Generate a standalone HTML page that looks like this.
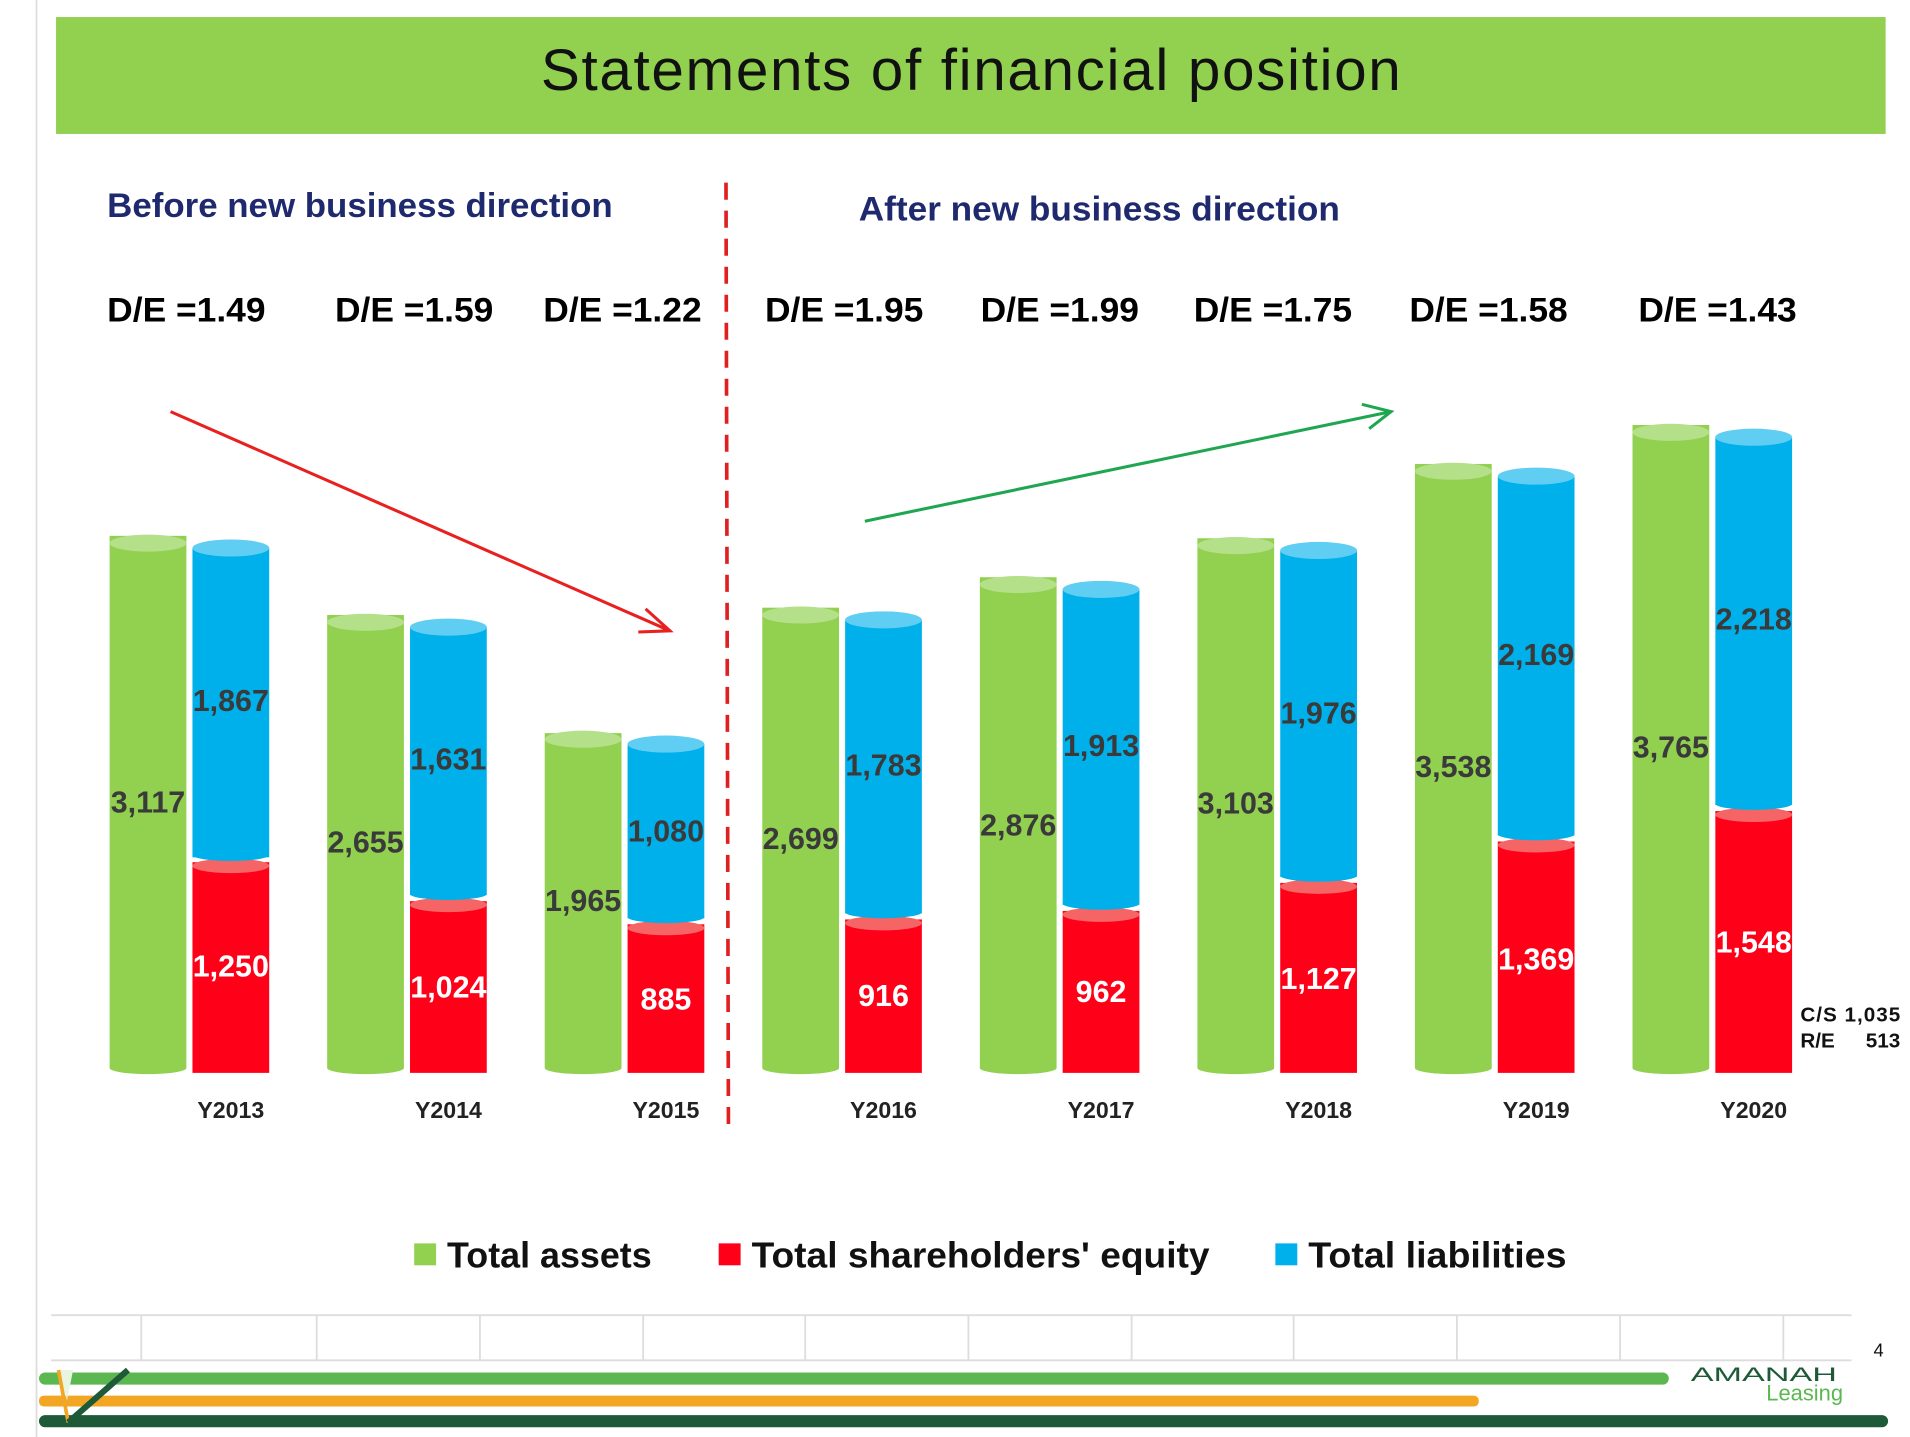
<!DOCTYPE html>
<html><head><meta charset="utf-8"><style>
html,body{margin:0;padding:0;background:#fff;}
svg{display:block;}
text{font-family:"Liberation Sans",sans-serif;}
</style></head><body>
<svg width="1910" height="1437" viewBox="0 0 1568 1180" preserveAspectRatio="none">
<rect x="0" y="0" width="1568" height="1180" fill="#fff"/>
<line x1="30" y1="0" x2="30" y2="1180" stroke="#ddd" stroke-width="1.5"/>
<rect x="46" y="14" width="1502" height="96" fill="#92D050"/>
<text x="444" y="74" font-size="48" fill="#111" textLength="706" lengthAdjust="spacing">Statements of financial position</text>
<text x="88" y="178" font-size="28" font-weight="bold" fill="#1F2A6E" textLength="415" lengthAdjust="spacingAndGlyphs">Before new business direction</text>
<text x="705" y="181" font-size="28" font-weight="bold" fill="#1F2A6E" textLength="395" lengthAdjust="spacingAndGlyphs">After new business direction</text>
<g font-size="28" font-weight="bold" fill="#000">
<text x="88" y="264" textLength="130" lengthAdjust="spacingAndGlyphs">D/E =1.49</text><text x="275" y="264" textLength="130" lengthAdjust="spacingAndGlyphs">D/E =1.59</text><text x="446" y="264" textLength="130" lengthAdjust="spacingAndGlyphs">D/E =1.22</text><text x="628" y="264" textLength="130" lengthAdjust="spacingAndGlyphs">D/E =1.95</text><text x="805" y="264" textLength="130" lengthAdjust="spacingAndGlyphs">D/E =1.99</text><text x="980" y="264" textLength="130" lengthAdjust="spacingAndGlyphs">D/E =1.75</text><text x="1157" y="264" textLength="130" lengthAdjust="spacingAndGlyphs">D/E =1.58</text><text x="1345" y="264" textLength="130" lengthAdjust="spacingAndGlyphs">D/E =1.43</text>
</g>
<line x1="596" y1="150" x2="598" y2="925" stroke="#E02020" stroke-width="3" stroke-dasharray="14,9"/>
<line x1="140" y1="338" x2="550" y2="518" stroke="#E82020" stroke-width="2.5"/>
<polyline points="530,500 550,518 524,519" fill="none" stroke="#E82020" stroke-width="2.5"/>
<line x1="710" y1="428" x2="1142" y2="338" stroke="#1FA650" stroke-width="2.5"/>
<polyline points="1118,332 1142,338 1124,352" fill="none" stroke="#1FA650" stroke-width="2.5"/>

<g id="bars">
<rect x="90" y="440" width="63" height="437" fill="#92D050"/><ellipse cx="121.5" cy="877" rx="31.5" ry="5" fill="#92D050"/><ellipse cx="121.5" cy="446" rx="31.5" ry="7" fill="#B5E08A"/>
<rect x="158" y="708" width="63" height="173" fill="#FF0019"/><ellipse cx="189.5" cy="711" rx="31.5" ry="6" fill="#F56565"/>
<rect x="158" y="450" width="63" height="254" fill="#00B0EA"/><ellipse cx="189.5" cy="450" rx="31.5" ry="7" fill="#5FCEF2"/><ellipse cx="189.5" cy="702" rx="31.5" ry="5" fill="#00B0EA"/>
<rect x="268.6" y="505" width="63" height="372" fill="#92D050"/><ellipse cx="300.1" cy="877" rx="31.5" ry="5" fill="#92D050"/><ellipse cx="300.1" cy="511" rx="31.5" ry="7" fill="#B5E08A"/>
<rect x="336.6" y="740" width="63" height="141" fill="#FF0019"/><ellipse cx="368.1" cy="743" rx="31.5" ry="6" fill="#F56565"/>
<rect x="336.6" y="515" width="63" height="220" fill="#00B0EA"/><ellipse cx="368.1" cy="515" rx="31.5" ry="7" fill="#5FCEF2"/><ellipse cx="368.1" cy="734" rx="31.5" ry="5" fill="#00B0EA"/>
<rect x="447.2" y="602" width="63" height="275" fill="#92D050"/><ellipse cx="478.7" cy="877" rx="31.5" ry="5" fill="#92D050"/><ellipse cx="478.7" cy="607" rx="31.5" ry="7" fill="#B5E08A"/>
<rect x="515.2" y="759" width="63" height="122" fill="#FF0019"/><ellipse cx="546.7" cy="762" rx="31.5" ry="6" fill="#F56565"/>
<rect x="515.2" y="611" width="63" height="143" fill="#00B0EA"/><ellipse cx="546.7" cy="611" rx="31.5" ry="7" fill="#5FCEF2"/><ellipse cx="546.7" cy="753" rx="31.5" ry="5" fill="#00B0EA"/>
<rect x="625.8" y="499" width="63" height="378" fill="#92D050"/><ellipse cx="657.3" cy="877" rx="31.5" ry="5" fill="#92D050"/><ellipse cx="657.3" cy="505" rx="31.5" ry="7" fill="#B5E08A"/>
<rect x="693.8" y="755" width="63" height="126" fill="#FF0019"/><ellipse cx="725.3" cy="758" rx="31.5" ry="6" fill="#F56565"/>
<rect x="693.8" y="509" width="63" height="241" fill="#00B0EA"/><ellipse cx="725.3" cy="509" rx="31.5" ry="7" fill="#5FCEF2"/><ellipse cx="725.3" cy="749" rx="31.5" ry="5" fill="#00B0EA"/>
<rect x="804.4" y="474" width="63" height="403" fill="#92D050"/><ellipse cx="835.9" cy="877" rx="31.5" ry="5" fill="#92D050"/><ellipse cx="835.9" cy="480" rx="31.5" ry="7" fill="#B5E08A"/>
<rect x="872.4" y="748" width="63" height="133" fill="#FF0019"/><ellipse cx="903.9" cy="751" rx="31.5" ry="6" fill="#F56565"/>
<rect x="872.4" y="484" width="63" height="259" fill="#00B0EA"/><ellipse cx="903.9" cy="484" rx="31.5" ry="7" fill="#5FCEF2"/><ellipse cx="903.9" cy="742" rx="31.5" ry="5" fill="#00B0EA"/>
<rect x="983" y="442" width="63" height="435" fill="#92D050"/><ellipse cx="1014.5" cy="877" rx="31.5" ry="5" fill="#92D050"/><ellipse cx="1014.5" cy="448" rx="31.5" ry="7" fill="#B5E08A"/>
<rect x="1051" y="725" width="63" height="156" fill="#FF0019"/><ellipse cx="1082.5" cy="728" rx="31.5" ry="6" fill="#F56565"/>
<rect x="1051" y="452" width="63" height="268" fill="#00B0EA"/><ellipse cx="1082.5" cy="452" rx="31.5" ry="7" fill="#5FCEF2"/><ellipse cx="1082.5" cy="719" rx="31.5" ry="5" fill="#00B0EA"/>
<rect x="1161.6" y="381" width="63" height="496" fill="#92D050"/><ellipse cx="1193.1" cy="877" rx="31.5" ry="5" fill="#92D050"/><ellipse cx="1193.1" cy="387" rx="31.5" ry="7" fill="#B5E08A"/>
<rect x="1229.6" y="691" width="63" height="190" fill="#FF0019"/><ellipse cx="1261.1" cy="694" rx="31.5" ry="6" fill="#F56565"/>
<rect x="1229.6" y="391" width="63" height="295" fill="#00B0EA"/><ellipse cx="1261.1" cy="391" rx="31.5" ry="7" fill="#5FCEF2"/><ellipse cx="1261.1" cy="685" rx="31.5" ry="5" fill="#00B0EA"/>
<rect x="1340.2" y="349" width="63" height="528" fill="#92D050"/><ellipse cx="1371.7" cy="877" rx="31.5" ry="5" fill="#92D050"/><ellipse cx="1371.7" cy="355" rx="31.5" ry="7" fill="#B5E08A"/>
<rect x="1408.2" y="666" width="63" height="215" fill="#FF0019"/><ellipse cx="1439.7" cy="669" rx="31.5" ry="6" fill="#F56565"/>
<rect x="1408.2" y="359" width="63" height="302" fill="#00B0EA"/><ellipse cx="1439.7" cy="359" rx="31.5" ry="7" fill="#5FCEF2"/><ellipse cx="1439.7" cy="660" rx="31.5" ry="5" fill="#00B0EA"/>
</g>

<g font-size="25" font-weight="bold" fill="#3A3A3A" text-anchor="middle">
<text x="121.5" y="667">3,117</text><text x="189.5" y="584">1,867</text>
<text x="300.1" y="700">2,655</text><text x="368.1" y="632">1,631</text>
<text x="478.7" y="748">1,965</text><text x="546.7" y="691">1,080</text>
<text x="657.3" y="697">2,699</text><text x="725.3" y="637">1,783</text>
<text x="835.9" y="686">2,876</text><text x="903.9" y="621">1,913</text>
<text x="1014.5" y="668">3,103</text><text x="1082.5" y="594">1,976</text>
<text x="1193.1" y="638">3,538</text><text x="1261.1" y="546">2,169</text>
<text x="1371.7" y="622">3,765</text><text x="1439.7" y="517">2,218</text>
</g>
<g font-size="25" font-weight="bold" fill="#fff" text-anchor="middle">
<text x="189.5" y="802">1,250</text><text x="368.1" y="819">1,024</text><text x="546.7" y="829">885</text><text x="725.3" y="826">916</text><text x="903.9" y="823">962</text><text x="1082.5" y="812">1,127</text><text x="1261.1" y="796">1,369</text><text x="1439.7" y="782">1,548</text>
</g>
<g font-size="19" font-weight="bold" fill="#222" text-anchor="middle">
<text x="189.5" y="918">Y2013</text><text x="368.1" y="918">Y2014</text><text x="546.7" y="918">Y2015</text><text x="725.3" y="918">Y2016</text><text x="903.9" y="918">Y2017</text><text x="1082.5" y="918">Y2018</text><text x="1261.1" y="918">Y2019</text><text x="1439.7" y="918">Y2020</text>
</g>
<text x="1478" y="839" font-size="17" font-weight="bold" fill="#111" textLength="82">C/S 1,035</text>
<text x="1478" y="860" font-size="17" font-weight="bold" fill="#111">R/E</text><text x="1560" y="860" font-size="17" font-weight="bold" fill="#111" text-anchor="end">513</text>

<rect x="340" y="1021" width="18" height="18" fill="#92D050"/>
<text x="367" y="1041" font-size="30" font-weight="bold" fill="#111" textLength="168" lengthAdjust="spacingAndGlyphs">Total assets</text>
<rect x="590" y="1021" width="18" height="18" fill="#FF0019"/>
<text x="617" y="1041" font-size="30" font-weight="bold" fill="#111" textLength="376" lengthAdjust="spacingAndGlyphs">Total shareholders' equity</text>
<rect x="1047" y="1021" width="18" height="18" fill="#00B0EA"/>
<text x="1074" y="1041" font-size="30" font-weight="bold" fill="#111" textLength="212" lengthAdjust="spacingAndGlyphs">Total liabilities</text>

<g stroke="#ddd" stroke-width="1.5">
<line x1="42" y1="1080" x2="1520" y2="1080"/><line x1="42" y1="1117" x2="1520" y2="1117"/>
<line x1="116" y1="1080" x2="116" y2="1117"/><line x1="260" y1="1080" x2="260" y2="1117"/><line x1="394" y1="1080" x2="394" y2="1117"/><line x1="528" y1="1080" x2="528" y2="1117"/><line x1="661" y1="1080" x2="661" y2="1117"/><line x1="795" y1="1080" x2="795" y2="1117"/><line x1="929" y1="1080" x2="929" y2="1117"/><line x1="1062" y1="1080" x2="1062" y2="1117"/><line x1="1196" y1="1080" x2="1196" y2="1117"/><line x1="1330" y1="1080" x2="1330" y2="1117"/><line x1="1464" y1="1080" x2="1464" y2="1117"/>
</g>
<rect x="32" y="1127" width="1338" height="10" rx="5" fill="#5BB850"/>
<rect x="32" y="1146" width="1182" height="9" rx="4" fill="#F2A623"/>
<rect x="32" y="1162" width="1518" height="10" rx="5" fill="#1E5A38"/>
<polygon points="48,1125 60,1125 55,1150" fill="#E8F5E0"/>
<line x1="48" y1="1125" x2="56" y2="1168" stroke="#F2A623" stroke-width="3"/>
<line x1="56" y1="1168" x2="105" y2="1125" stroke="#1E5A38" stroke-width="5"/>
<text x="1388" y="1134" font-size="16" fill="#1E5A38" textLength="120" lengthAdjust="spacingAndGlyphs">AMANAH</text>
<text x="1450" y="1150" font-size="18" fill="#5BB850">Leasing</text>
<text x="1538" y="1114" font-size="15" fill="#111" font-family="Liberation Serif">4</text>
</svg>
</body></html>
